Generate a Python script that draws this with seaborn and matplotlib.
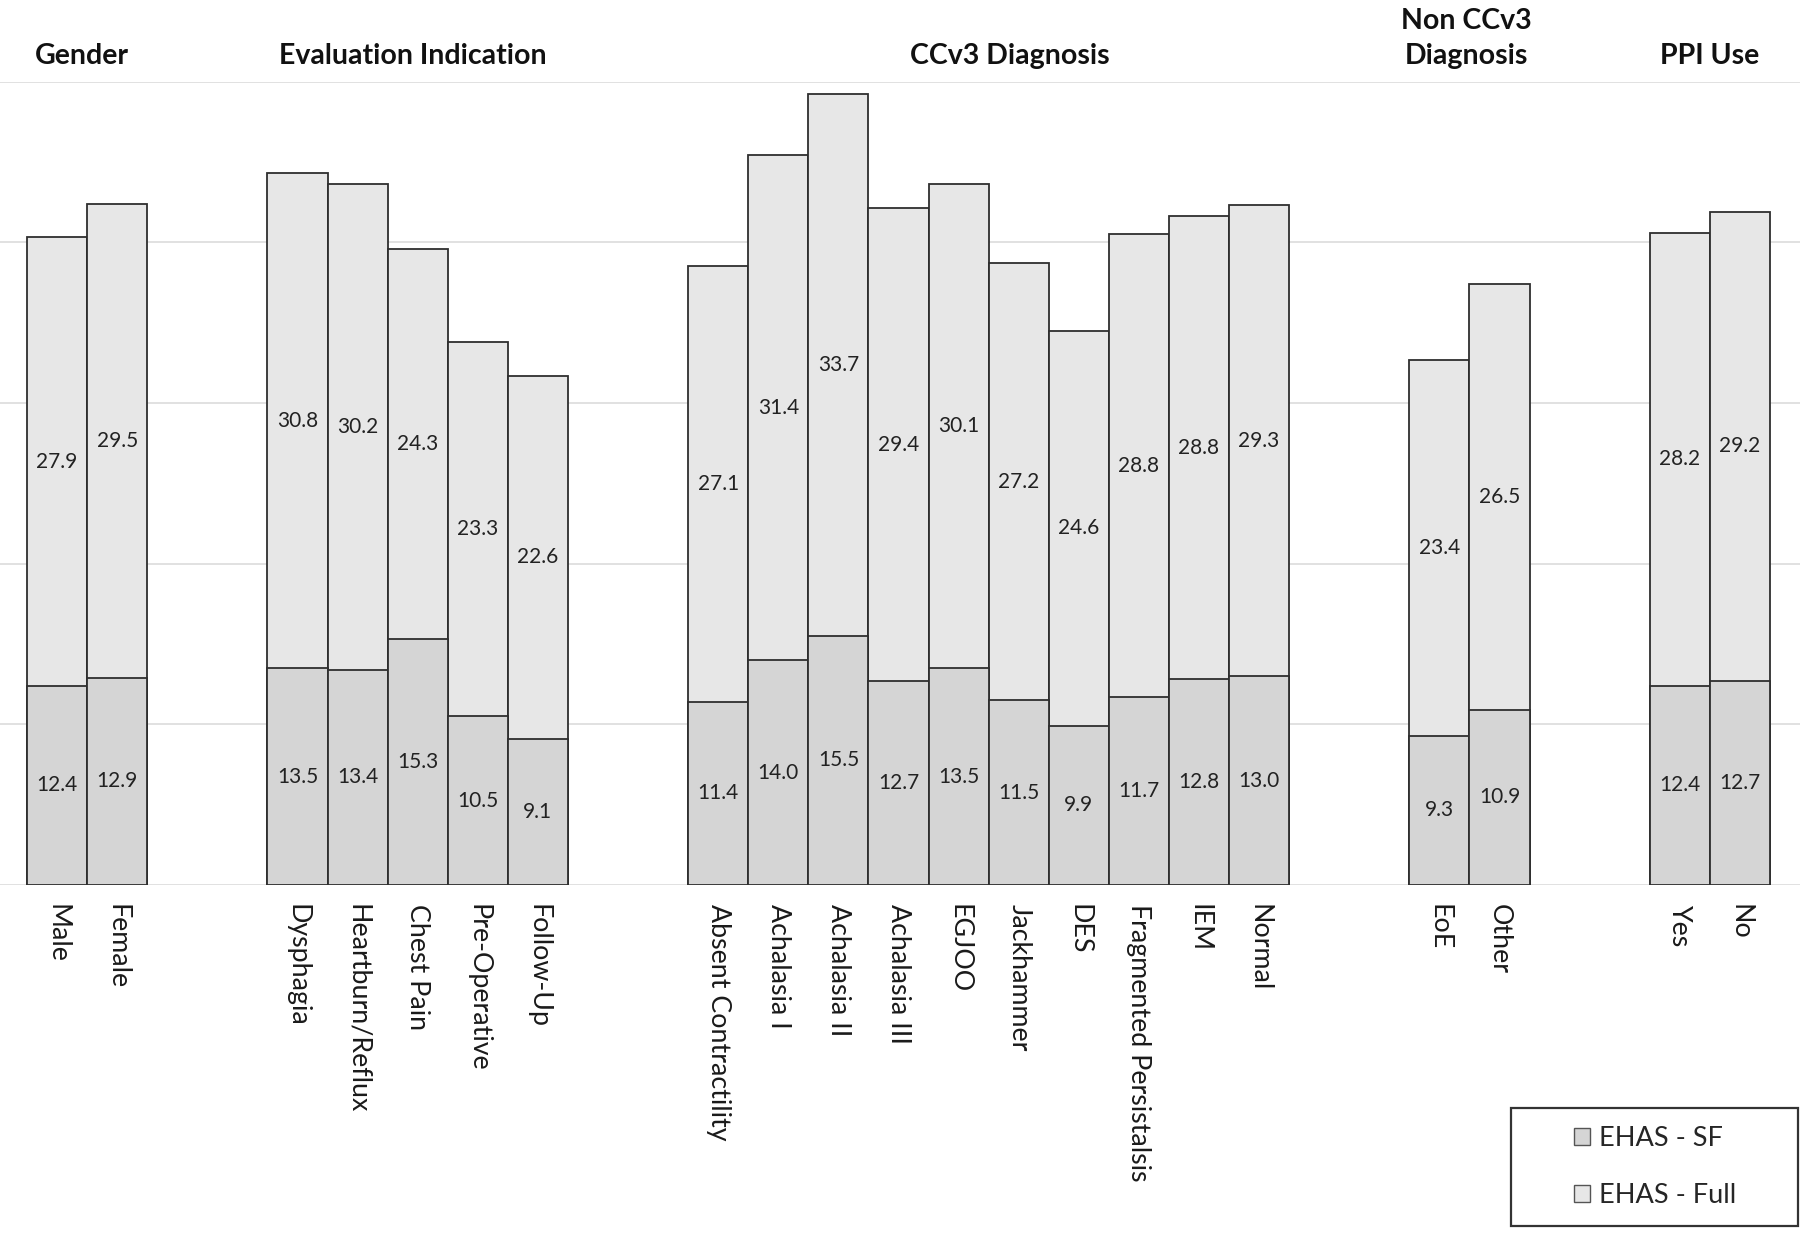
import numpy as np
import pandas as pd
import seaborn as sns
import matplotlib.pyplot as plt
from matplotlib.patches import Patch, Rectangle

# values
group_names = ["Gender", "Evaluation Indication", "CCv3 Diagnosis", "Non CCv3\nDiagnosis", "PPI Use"]
group_cats = [
    ["Male", "Female"],
    ["Dysphagia", "Heartburn/Reflux", "Chest Pain", "Pre-Operative", "Follow-Up"],
    ["Absent Contractility", "Achalasia I", "Achalasia II", "Achalasia III", "EGJOO",
     "Jackhammer", "DES", "Fragmented Persistalsis", "IEM", "Normal"],
    ["EoE", "Other"],
    ["Yes", "No"],
]
sf_vals = [
    [12.4, 12.9],
    [13.5, 13.4, 15.3, 10.5, 9.1],
    [11.4, 14.0, 15.5, 12.7, 13.5, 11.5, 9.9, 11.7, 12.8, 13.0],
    [9.3, 10.9],
    [12.4, 12.7],
]
full_vals = [
    [27.9, 29.5],
    [30.8, 30.2, 24.3, 23.3, 22.6],
    [27.1, 31.4, 33.7, 29.4, 30.1, 27.2, 24.6, 28.8, 28.8, 29.3],
    [23.4, 26.5],
    [28.2, 29.2],
]

# build table, groups separated by two empty slots
rows = []
pos = 1
group_centers = []
for g, cats in enumerate(group_cats):
    start = pos
    for c, sf, fu in zip(cats, sf_vals[g], full_vals[g]):
        rows.append({"group": group_names[g], "cat": c, "x": pos, "sf": sf, "full": fu, "total": sf + fu})
        pos += 1
    group_centers.append((start + pos - 1) / 2)
    pos += 2
df = pd.DataFrame(rows)

sns.set_theme(style="white")
plt.rcParams["font.family"] = ["Lato", "DejaVu Sans"]

fig = plt.figure(figsize=(18, 12.34), dpi=100)
ax = fig.add_axes([0, 1 - 885 / 1234, 1, (885 - 81.5) / 1234])

c_sf = "#d5d5d5"
c_full = "#e7e7e7"
edge = "#2e2e2e"

sns.barplot(data=df, x="x", y="total", native_scale=True, width=1, color=c_full,
            saturation=1, edgecolor=edge, linewidth=1.3, ax=ax, errorbar=None)
sns.barplot(data=df, x="x", y="sf", native_scale=True, width=1, color=c_sf,
            saturation=1, edgecolor=edge, linewidth=1.3, ax=ax, errorbar=None)

for _, r in df.iterrows():
    ax.text(r["x"], r["sf"] / 2, "%.1f" % r["sf"], ha="center", va="center", fontsize=15, color="#222222")
    ax.text(r["x"], r["sf"] + r["full"] / 2, "%.1f" % r["full"], ha="center", va="center", fontsize=15, color="#222222")

ax.set_ylim(0, 50)
ax.set_xlim(0.05, 30.0)
ax.set_yticks([0, 10, 20, 30, 40, 50])
ax.set_yticklabels([])
ax.yaxis.grid(True, color="#dedede", linewidth=1.3)
ax.set_axisbelow(True)
for s in ax.spines.values():
    s.set_visible(False)
ax.set_xticks(df["x"])
ax.set_xticklabels(df["cat"], rotation=270, ha="center", va="top", fontsize=19.3, color="#1a1a1a")
ax.tick_params(axis="x", length=0, pad=14)
ax.tick_params(axis="y", length=0)
ax.set_xlabel("")
ax.set_ylabel("")

title_shift = [-0.08, -0.08, 0.35, -0.05, 0.0]
for name, xc, dx in zip(group_names, group_centers, title_shift):
    ax.text(xc + dx, 50.75, name, ha="center", va="bottom", fontsize=20.5, fontweight="bold",
            color="#111111", linespacing=1.45)

# legend with a plain box around it
handles = [Patch(facecolor=c_sf, edgecolor="#555555", label="EHAS - SF"),
           Patch(facecolor=c_full, edgecolor="#555555", label="EHAS - Full")]
fig.legend(handles=handles, loc="center", bbox_to_anchor=(1655 / 1800, 1 - 1167 / 1234),
           frameon=False, fontsize=19.5, handlelength=0.6, handleheight=0.6,
           handletextpad=0.3, labelspacing=1.2)
fig.patches.append(Rectangle((1511 / 1800, 1 - 1226 / 1234), 287 / 1800, 118 / 1234,
                             transform=fig.transFigure, fill=False, edgecolor="#333333", linewidth=1.6))

fig.savefig("out.png", dpi=100)
